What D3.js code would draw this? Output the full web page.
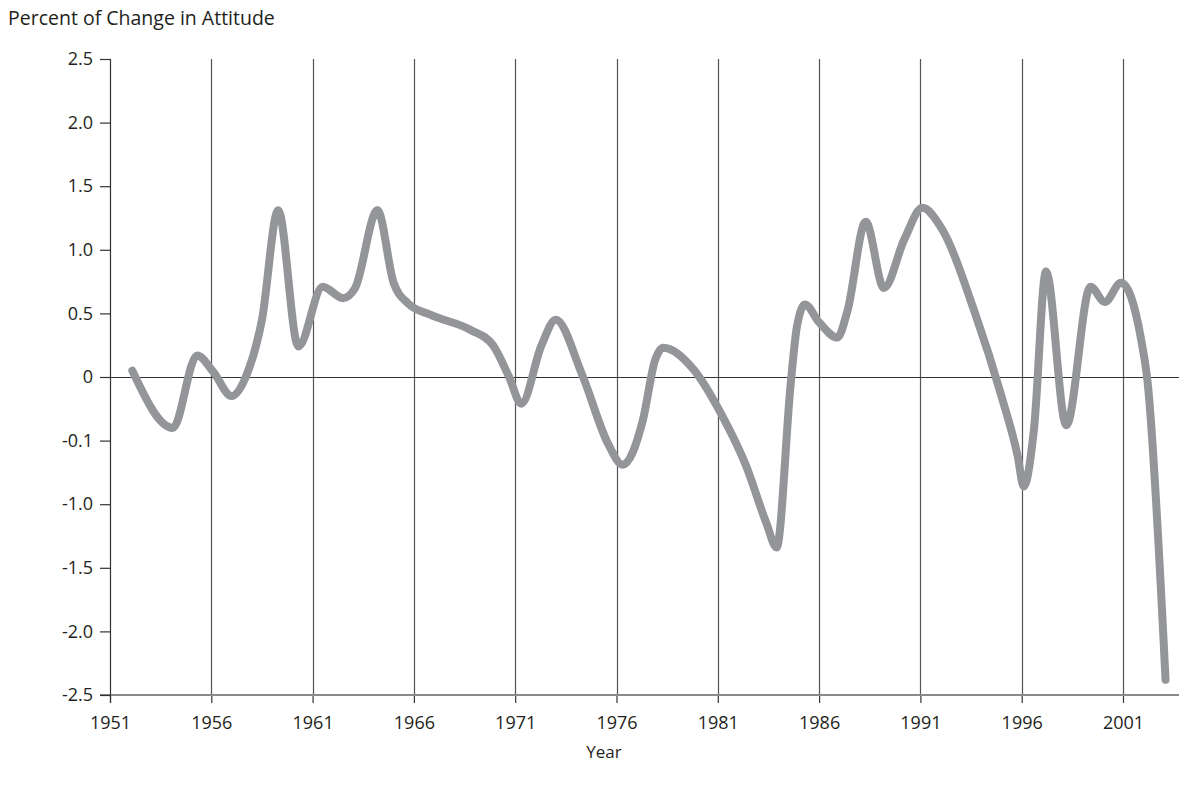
<!DOCTYPE html>
<html>
<head>
<meta charset="utf-8">
<script src="https://cdn.jsdelivr.net/npm/d3@7"></script>
<style>
  body { margin: 0; background: #fff; }
  text { font-family: "Open Sans", "Noto Sans", sans-serif; fill: #231f20; }
</style>
</head>
<body>
<svg id="chart"></svg>
<script>
const years = [1952.1, 1954.1, 1955.3, 1956.1, 1957.0, 1957.7, 1958.5, 1959.3, 1960.3, 1961.5, 1962.5, 1963.1,
    1964.2, 1965.0, 1965.7, 1966.8, 1968.8, 1969.9, 1970.7, 1971.3, 1972.3, 1973.0, 1974.3, 1975.6, 1976.3,
    1977.3, 1977.9, 1978.3, 1979.8, 1981.2, 1982.4, 1983.4, 1983.9, 1984.6, 1984.9, 1985.3, 1986.0, 1986.9,
    1987.4, 1988.3, 1989.2, 1990.2, 1991.1, 1992.0, 1993.7, 1995.0, 1995.8, 1996.1, 1996.6, 1997.2, 1998.2,
    1999.4, 2000.1, 2000.9, 2001.9, 2002.2, 2003.1];
const values = [0.05, -0.40, 0.17, 0.04, -0.15, 0.0, 0.45, 1.31, 0.24, 0.71, 0.62, 0.70,
    1.31, 0.74, 0.58, 0.49, 0.37, 0.25, 0.0, -0.21, 0.25, 0.45, 0.02, -0.53, -0.69,
    -0.34, 0.13, 0.23, 0.06, -0.30, -0.70, -1.15, -1.34, -0.05, 0.39, 0.57, 0.43, 0.31,
    0.52, 1.22, 0.70, 1.08, 1.33, 1.18, 0.50, -0.15, -0.62, -0.86, -0.42, 0.83, -0.38,
    0.71, 0.59, 0.74, 0.29, -0.02, -2.38];

const xTicks = [1951, 1956, 1961, 1966, 1971, 1976, 1981, 1986, 1991, 1996, 2001];
const yTicks = [-2.5, -2.0, -1.5, -1.0, -0.5, 0, 0.5, 1.0, 1.5, 2.0, 2.5];
const yTickLabels = ["-2.5", "-2.0", "-1.5", "-1.0", "-0.1", "0", "0.5", "1.0", "1.5", "2.0", "2.5"];

const width = 1179, height = 789;
const margin = { top: 59, right: 0, bottom: 94, left: 110 };

const svg = d3.select('#chart')
    .attr('width', width)
    .attr('height', height);

const xscale = d3.scaleLinear()
    .domain([1951, 2001])
    .range([margin.left, 1123]);

const yscale = d3.scaleLinear()
    .domain([-2.5, 2.5])
    .range([height - margin.bottom, margin.top]);

// vertical grid lines
svg.append('g')
    .selectAll('line')
    .data(xTicks.slice(1))
    .join('line')
    .attr('x1', d => Math.round(xscale(d)) + 0.5)
    .attr('x2', d => Math.round(xscale(d)) + 0.5)
    .attr('y1', yscale(2.5))
    .attr('y2', yscale(-2.5))
    .attr('stroke', '#555')
    .attr('stroke-width', 1.2);

// bottom axis
const xaxis = d3.axisBottom(xscale)
    .tickValues(xTicks)
    .tickFormat(d3.format('d'))
    .tickSize(8)
    .tickPadding(13)
    .tickSizeOuter(0);

const xg = svg.append('g')
    .attr('transform', `translate(0, ${yscale(-2.5)})`)
    .call(xaxis);
xg.select('.domain').remove();
xg.selectAll('.tick line').attr('stroke', '#333').attr('stroke-width', 1.2);
xg.selectAll('.tick text').attr('font-size', 18).style('fill', '#231f20');

svg.append('line')
    .attr('x1', 100).attr('x2', width)
    .attr('y1', yscale(-2.5)).attr('y2', yscale(-2.5))
    .attr('stroke', '#8a8a8a')
    .attr('stroke-width', 2);

// left axis
const yaxis = d3.axisLeft(yscale)
    .tickValues(yTicks)
    .tickFormat((d, i) => yTickLabels[i])
    .tickSize(10)
    .tickPadding(7)
    .tickSizeOuter(0);

const yg = svg.append('g')
    .attr('transform', `translate(${margin.left}, 0)`)
    .call(yaxis);
yg.select('.domain').remove();
yg.selectAll('.tick line').attr('stroke', '#333').attr('stroke-width', 1.2);
yg.selectAll('.tick text').attr('font-size', 18).style('fill', '#231f20');

svg.append('line')
    .attr('x1', margin.left + 0.5).attr('x2', margin.left + 0.5)
    .attr('y1', yscale(2.5)).attr('y2', yscale(-2.5) + 8)
    .attr('stroke', '#333')
    .attr('stroke-width', 1.2);

// zero line
svg.append('line')
    .attr('x1', margin.left).attr('x2', width)
    .attr('y1', Math.round(yscale(0)) + 0.5).attr('y2', Math.round(yscale(0)) + 0.5)
    .attr('stroke', '#333')
    .attr('stroke-width', 1.2);

// data line
const line = d3.line()
    .x((d, i) => xscale(years[i]))
    .y(d => yscale(d))
    .curve(d3.curveMonotoneX);

svg.append('path')
    .attr('d', line(values))
    .attr('fill', 'none')
    .attr('stroke', '#939598')
    .attr('stroke-width', 8)
    .attr('stroke-linecap', 'round')
    .attr('stroke-linejoin', 'round');

// titles
svg.append('text')
    .attr('x', 8)
    .attr('y', 25)
    .attr('font-size', 19.5)
    .text('Percent of Change in Attitude');

svg.append('text')
    .attr('x', 604)
    .attr('y', 758)
    .attr('text-anchor', 'middle')
    .attr('font-size', 17)
    .text('Year');
</script>
</body>
</html>
